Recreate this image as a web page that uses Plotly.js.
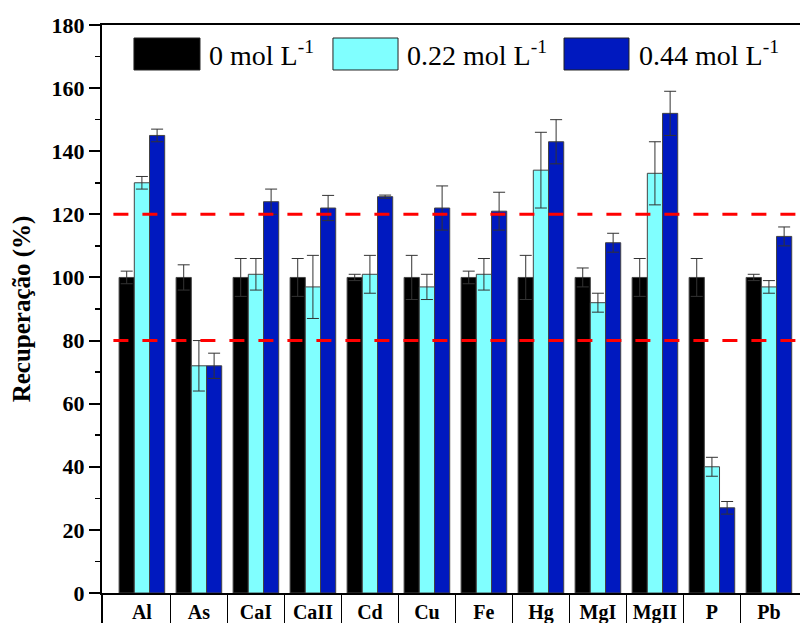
<!DOCTYPE html>
<html>
<head>
<meta charset="utf-8">
<script src="https://cdn.plot.ly/plotly-3.0.1.min.js"></script>
<style>body{margin:0;background:#fff}#chart{width:800px;height:623px}</style>
</head>
<body>
<div id="chart"></div>
<script>
var categories = ["Al","As","CaI","CaII","Cd","Cu","Fe","Hg","MgI","MgII","P","Pb"];
var seriesNames = ["0 mol L<sup>-1</sup>","0.22 mol L<sup>-1</sup>","0.44 mol L<sup>-1</sup>"];
var vals0   = [100,100,100,100,100,100,100,100,100,100,100,100];
var errs0   = [2,4,6,6,1,7,2,7,3,6,6,1];
var vals022 = [130,72,101,97,101,97,101,134,92,133,40,97];
var errs022 = [2,8,5,10,6,4,5,12,3,10,3,2];
var vals044 = [145,72,124,122,125.6,122,121,143,111,152,27,113];
var errs044 = [2,4,4,4,0.5,7,6,7,3,7,2,3];
var limits = [80,120];
var yTitle = "Recuperação (%)";

var colors = ["#000000","#80FFFF","#0019BF"];
var serif = "Liberation Serif";

function mk(vals, errs, i){
  return {
    type:"bar", x:categories, y:vals, name:seriesNames[i],
    marker:{color:colors[i], line:{color:"#444", width:1}},
    error_y:{type:"data", array:errs, visible:true, color:"#333", thickness:1, width:6},
    showlegend:false, hoverinfo:"skip"
  };
}
var data = [mk(vals0,errs0,0), mk(vals022,errs022,1), mk(vals044,errs044,2)];

var x0r = -0.70, x1r = 11.545;
var boundaries = [x0r+0.001].concat(categories.slice(1).map(function(c,i){return i+0.5;}));
// invisible helper trace so the separator axis is drawn
data.push({type:"scatter", x:[0], y:[0], xaxis:"x2", yaxis:"y", mode:"markers",
           marker:{opacity:0, size:1}, showlegend:false, hoverinfo:"skip"});

var shapes = limits.map(function(v){
  return {type:"line", xref:"x", yref:"y", x0:-0.5, x1:categories.length-0.5, y0:v, y1:v,
          line:{color:"#FF0000", width:3, dash:"15px,14px"}, layer:"above"};
});
// custom legend swatches
var sw = [[0.0458,0.1404],[0.3309,0.4241],[0.6619,0.7550]];
var tx = [0.1504,0.4341,0.7665];
var annotations = [];
sw.forEach(function(s,i){
  shapes.push({type:"rect", xref:"paper", yref:"paper", x0:s[0], x1:s[1], y0:0.9208, y1:0.9771,
    fillcolor:colors[i], line:{color:"#222", width:1}, layer:"above"});
  annotations.push({xref:"paper", yref:"paper", x:tx[i], y:0.950, xanchor:"left", yanchor:"middle",
    text:seriesNames[i], showarrow:false, font:{family:serif, size:28, color:"#000"}});
});

var layout = {
  width:800, height:623,
  font:{family:serif, color:"#000"},
  margin:{l:102, r:0, t:25, b:30, pad:0},
  paper_bgcolor:"#fff", plot_bgcolor:"#fff",
  barmode:"group", bargap:0.2, bargroupgap:0,
  xaxis:{type:"category", range:[x0r,x1r], showline:true, linecolor:"#000", linewidth:2, mirror:true,
         ticks:"", showgrid:false, zeroline:false,
         tickfont:{family:serif, size:20, color:"#000", weight:"bold"}},
  xaxis2:{overlaying:"x", anchor:"y", side:"bottom", type:"linear", range:[x0r,x1r],
          tickmode:"array", tickvals:boundaries, ticktext:boundaries.map(function(){return "";}),
          ticks:"outside", ticklen:30, tickwidth:1.5, tickcolor:"#000",
          showticklabels:false, showline:false, showgrid:false, zeroline:false},
  yaxis:{range:[0,180], dtick:20, showline:true, linecolor:"#000", linewidth:2, ticks:"outside", ticklen:11,
         tickwidth:2, tickcolor:"#000", showgrid:false, zeroline:false,
         minor:{dtick:10, ticks:"outside", ticklen:5, tickwidth:1.5, tickcolor:"#000"},
         tickfont:{family:serif, size:22, color:"#000", weight:"bold"},
         title:{text:yTitle, font:{family:serif, size:25, color:"#000", weight:"bold"}, standoff:14}},
  shapes:shapes, annotations:annotations
};
Plotly.newPlot("chart", data, layout, {displayModeBar:false, staticPlot:true});
</script>
</body>
</html>
